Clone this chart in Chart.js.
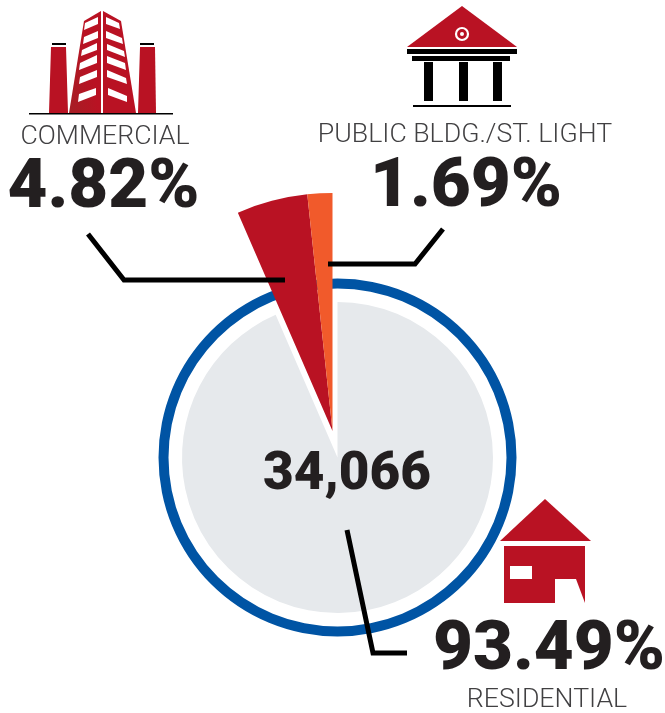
<!DOCTYPE html>
<html>
<head>
<meta charset="utf-8">
<script src="https://cdn.jsdelivr.net/npm/chart.js@4"></script>
<style>
  html, body { margin: 0; padding: 0; background: #fff; }
  #wrap { position: relative; width: 665px; height: 713px; overflow: hidden; font-family: Roboto, sans-serif; }
  canvas, svg { position: absolute; left: 0; top: 0; }
  .big, .small { position: absolute; white-space: nowrap; transform: translateX(-50%); line-height: 1; }
  .big { font-weight: 900; color: #231f20; }
  .small { font-weight: 300; color: #414042; font-size: 26.7px; }
</style>
</head>
<body>
<div id="wrap">
  <canvas id="myChart" width="665" height="713"></canvas>
  <svg width="665" height="713" viewBox="0 0 665 713">
    <defs>
      <linearGradient id="towerShade" x1="0" y1="1" x2="1" y2="0.4">
        <stop offset="0" stop-color="#a51e24"/>
        <stop offset="0.7" stop-color="#b91223"/>
      </linearGradient>
    </defs>
    <!-- leader lines -->
    <g fill="none" stroke="#000" stroke-width="5">
      <polyline points="88,234 124,280 285,280"/>
      <polyline points="443,229 415,264 328,264"/>
      <polyline points="347,530 373,653 407,653"/>
    </g>
    <!-- commercial icon -->
    <g fill="#b91223">
      <polygon points="49,113 51,47 66,47 68,113"/>
      <polygon points="138,113 140,47 155,47 156,113"/>
      <polygon points="69,113 84,21 101,11 101,113" fill="url(#towerShade)"/>
      <polygon points="103,11 121,21 136,113 103,113"/>
    </g>
    <g fill="#000">
      <rect x="52" y="43" width="14" height="2"/>
      <rect x="140" y="43" width="14" height="2"/>
      <rect x="29" y="113" width="144" height="1.5"/>
    </g>
    <g fill="#fff">
      <polygon points="85,23 98,17 98,24 84,30"/>
      <polygon points="84,37 98,31 98,38 83,44"/>
      <polygon points="82,50 97,43 97,50 81,56"/>
      <polygon points="80,63 97,55 97,63 79,70"/>
      <polygon points="80,77 97,70 97,77 79,84"/>
      <polygon points="79,94 96,88 96,95 78,102"/>
      <polygon points="106,17 119,23 120,29 106,24"/>
      <polygon points="106,31 122,38 123,44 106,38"/>
      <polygon points="107,44 124,51 125,57 107,50"/>
      <polygon points="107,56 125,63 126,70 107,63"/>
      <polygon points="107,70 126,78 127,84 107,77"/>
      <polygon points="108,88 127,96 127,102 108,95"/>
    </g>
    <!-- public building icon -->
    <polygon points="462,6 517,47 407,47" fill="#b91223"/>
    <circle cx="462" cy="34" r="6" fill="none" stroke="#fff" stroke-width="2.2"/>
    <circle cx="462" cy="34" r="2" fill="#fff"/>
    <g fill="#000">
      <rect x="407" y="49" width="110" height="5"/>
      <rect x="412" y="56" width="98" height="5"/>
      <rect x="424" y="62" width="9" height="39"/>
      <rect x="459" y="62" width="9" height="39"/>
      <rect x="493" y="62" width="9" height="39"/>
      <rect x="413" y="105" width="98" height="2"/>
    </g>
    <!-- residential icon -->
    <g fill="#b91223">
      <polygon points="545,499 591,541 500,541"/>
      <polygon points="504,546 585,546 585,603 576,579 555,579 555,603 504,603"/>
    </g>
    <rect x="510" y="566" width="22" height="13" fill="#fff"/>
  </svg>
  <div id="labels"></div>
</div>
<script>
// values as printed on the graphic
const categories = ["RESIDENTIAL", "COMMERCIAL", "PUBLIC BLDG./ST. LIGHT"]
const shares = [93.49, 4.82, 1.69]
const sliceColors = ["#e6e9ec", "#b91223", "#f15a2b"]
const total = "34,066"

// [center x, center y, outer radius] for each slice, the small ones are pulled out
const SLICE_SHAPE = [[337.5, 457.5, 155.5], [332.5, 431, 238], [332.5, 431, 238]]
const RING = { x: 337.5, y: 457.5, inner: 169, outer: 179 }

// pie slices have different radius, chart.js has no option for that so set it after layout
const shapePlugin = {
  id: "shape",
  afterDatasetsUpdate(chart) {
    chart.getDatasetMeta(0).data.forEach(function (arc, i) {
      arc.x = SLICE_SHAPE[i][0]
      arc.y = SLICE_SHAPE[i][1]
      arc.innerRadius = 0
      arc.outerRadius = SLICE_SHAPE[i][2]
    })
    const ring = chart.getDatasetMeta(1).data[0]
    ring.x = RING.x
    ring.y = RING.y
    ring.innerRadius = RING.inner
    ring.outerRadius = RING.outer
  }
}

const ctx = document.getElementById("myChart").getContext("2d")
const chart = new Chart(ctx, {
  type: "doughnut",
  plugins: [shapePlugin],
  data: {
    labels: categories,
    datasets: [
      {
        data: shares,
        backgroundColor: sliceColors,
        borderWidth: 0
      },
      {
        // the blue ring around the pie
        data: [100],
        backgroundColor: "#0054a4",
        borderWidth: 0
      }
    ]
  },
  options: {
    responsive: false,
    animation: false,
    cutout: 0,
    plugins: { legend: { display: false }, tooltip: { enabled: false } }
  }
})

// text
function addText(cls, text, x, y, size) {
  const el = document.createElement("div")
  el.className = cls
  el.textContent = text
  el.style.left = x + "px"
  el.style.top = y + "px"
  if (size) el.style.fontSize = size + "px"
  document.getElementById("labels").appendChild(el)
}
addText("small", categories[1], 105, 122)
addText("big", shares[1].toFixed(2) + "%", 103.5, 149, 69)
addText("small", categories[2], 465, 120)
addText("big", shares[2].toFixed(2) + "%", 466, 148, 69)
addText("big", total, 347, 445, 53)
addText("big", shares[0].toFixed(2) + "%", 549, 611, 69)
addText("small", categories[0], 547, 685)
</script>
</body>
</html>
